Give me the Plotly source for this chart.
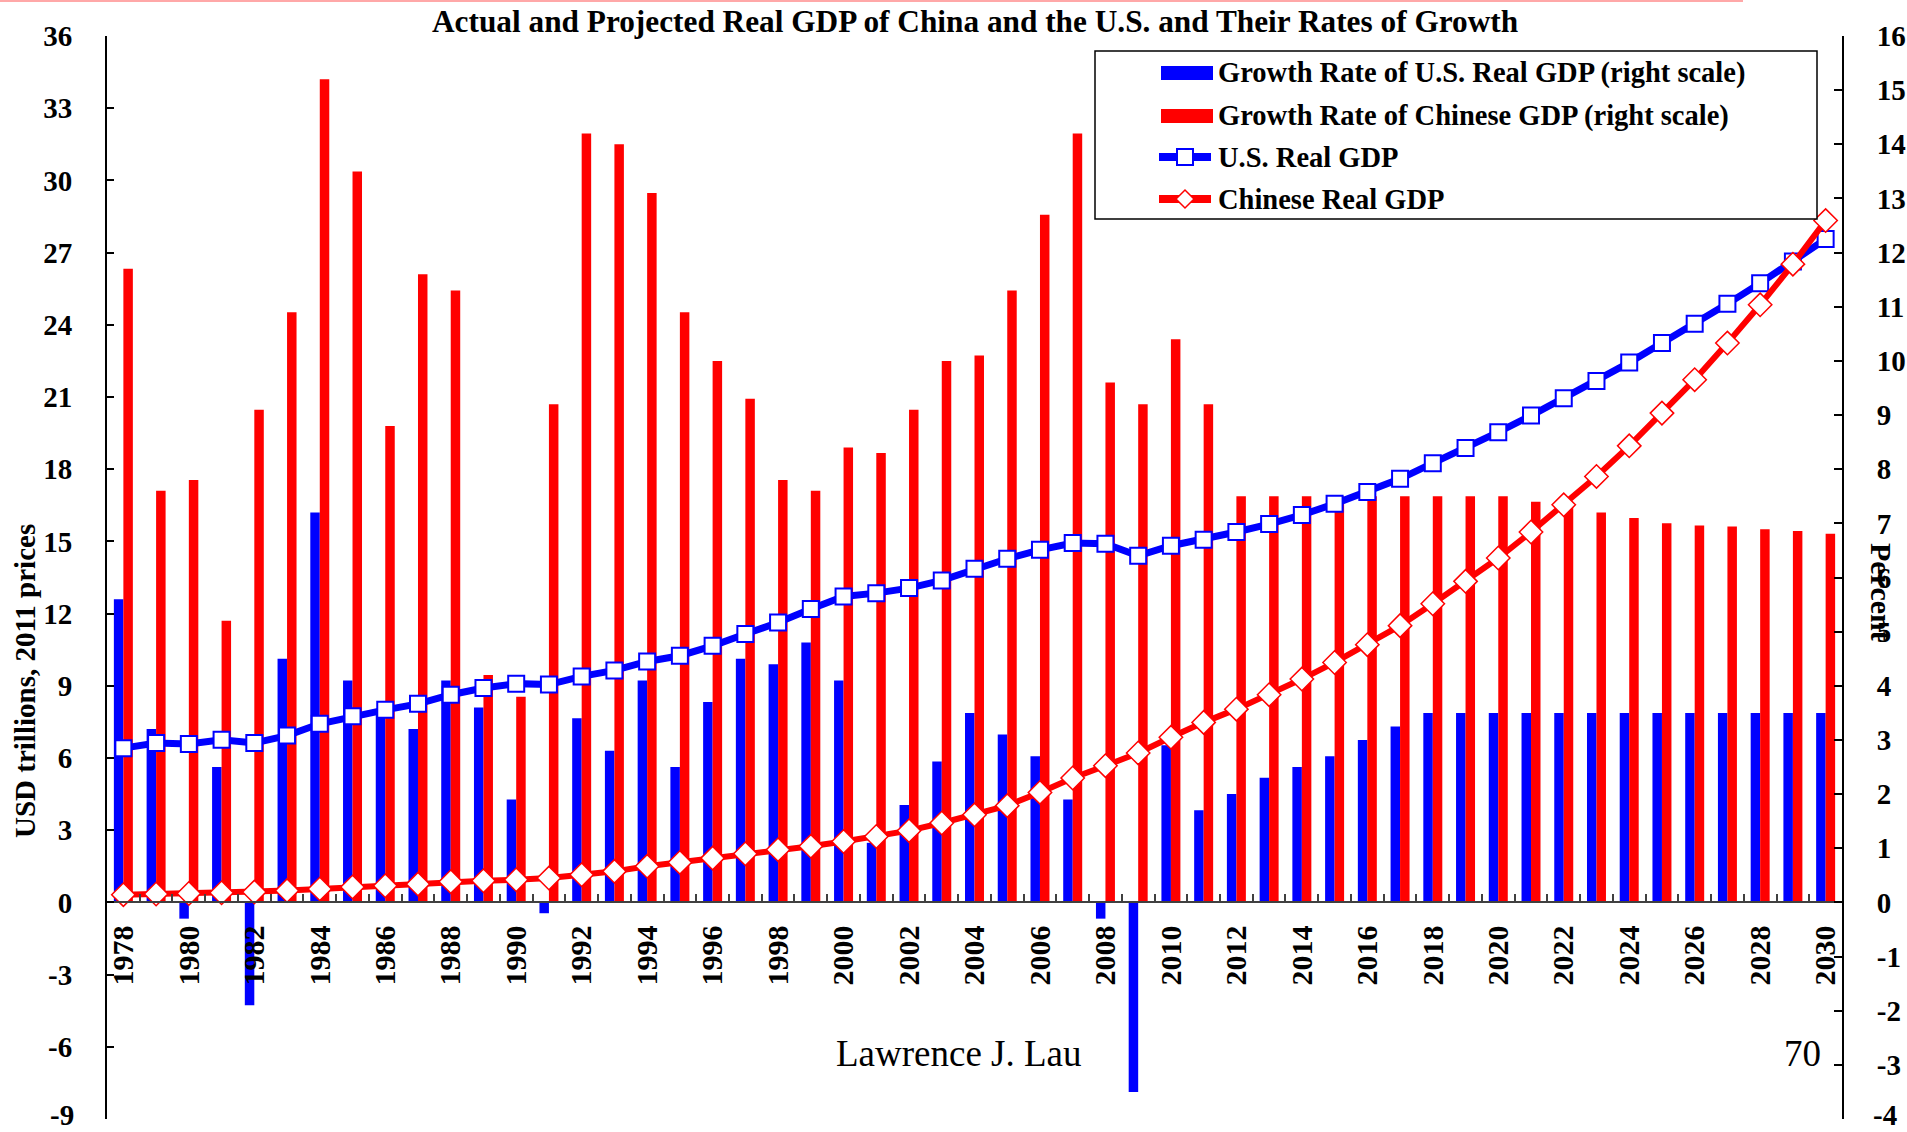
import plotly.graph_objects as go

# ---------------- data ----------------
years = list(range(1978, 2031))

us_growth = [5.6, 3.2, -0.3, 2.5, -1.9, 4.5, 7.2, 4.1, 3.5, 3.2,
             4.1, 3.6, 1.9, -0.2, 3.4, 2.8, 4.1, 2.5, 3.7, 4.5,
             4.4, 4.8, 4.1, 1.1, 1.8, 2.6, 3.5, 3.1, 2.7, 1.9,
             -0.3, -3.5, 2.9, 1.7, 2.0, 2.3, 2.5, 2.7, 3.0, 3.25,
             3.5, 3.5, 3.5, 3.5, 3.5, 3.5, 3.5, 3.5, 3.5, 3.5,
             3.5, 3.5, 3.5]

cn_growth = [11.7, 7.6, 7.8, 5.2, 9.1, 10.9, 15.2, 13.5, 8.8, 11.6,
             11.3, 4.2, 3.8, 9.2, 14.2, 14.0, 13.1, 10.9, 10.0, 9.3,
             7.8, 7.6, 8.4, 8.3, 9.1, 10.0, 10.1, 11.3, 12.7, 14.2,
             9.6, 9.2, 10.4, 9.2, 7.5, 7.5, 7.5, 7.5, 7.5, 7.5,
             7.5, 7.5, 7.5, 7.4, 7.3, 7.2, 7.1, 7.0, 6.96, 6.94,
             6.89, 6.86, 6.81]

us_gdp = [6.41, 6.62, 6.58, 6.76, 6.62, 6.93, 7.42, 7.73, 8.00, 8.25,
          8.63, 8.91, 9.09, 9.05, 9.39, 9.64, 10.01, 10.25, 10.66, 11.15,
          11.63, 12.19, 12.71, 12.85, 13.06, 13.38, 13.86, 14.28, 14.65, 14.93,
          14.90, 14.40, 14.82, 15.07, 15.39, 15.72, 16.10, 16.56, 17.05, 17.60,
          18.25, 18.88, 19.54, 20.23, 20.95, 21.67, 22.43, 23.24, 24.04, 24.87,
          25.73, 26.63, 27.56]

cn_gdp = [0.32, 0.35, 0.37, 0.40, 0.43, 0.49, 0.56, 0.64, 0.69, 0.76,
          0.86, 0.90, 0.94, 1.01, 1.15, 1.29, 1.50, 1.66, 1.84, 2.02,
          2.19, 2.33, 2.53, 2.74, 2.98, 3.30, 3.64, 4.02, 4.57, 5.17,
          5.68, 6.21, 6.86, 7.48, 8.03, 8.63, 9.28, 9.97, 10.71, 11.50,
          12.41, 13.34, 14.31, 15.39, 16.52, 17.70, 18.97, 20.33, 21.72, 23.24,
          24.83, 26.52, 28.33]

left_ticks = list(range(-9, 37, 3))
right_ticks = list(range(-4, 17, 1))
# plain hyphen minus, as in the original; the bottom-most labels sit on the window edge
# and are drawn separately (slightly lifted) so that they are not clipped
left_labels = ["" if v == left_ticks[0] else str(v) for v in left_ticks]
right_labels = ["" if v == right_ticks[0] else str(v) for v in right_ticks]
year_labels = [str(y) if y % 2 == 0 else "" for y in years]

title_text = "Actual and Projected Real GDP of China and the U.S. and Their Rates of Growth"
legend_names = ["Growth Rate of U.S. Real GDP (right scale)",
                "Growth Rate of Chinese GDP (right scale)",
                "U.S. Real GDP",
                "Chinese Real GDP"]

# ---------------- layout helpers ----------------
W, H = 1907, 1132
L, R, T, B = 107, 1842, 36, 1119    # plot area in page pixels


def px(X):
    return (X - L) / (R - L)


def py(Y):
    return (B - Y) / (B - T)


FONT = "Liberation Serif, Times New Roman, serif"
BLUE = "#0000FF"
RED = "#FF0000"

fig = go.Figure()
fig.add_trace(go.Bar(x=years, y=us_growth, name=legend_names[0], yaxis="y",
                     marker=dict(color=BLUE, line=dict(width=0))))
fig.add_trace(go.Bar(x=years, y=cn_growth, name=legend_names[1], yaxis="y",
                     marker=dict(color=RED, line=dict(width=0))))
fig.add_trace(go.Scatter(x=years, y=us_gdp, name=legend_names[2], yaxis="y2",
                         mode="lines+markers",
                         line=dict(color=BLUE, width=7),
                         marker=dict(symbol="square", size=16, color="white",
                                     line=dict(color=BLUE, width=2))))
fig.add_trace(go.Scatter(x=years, y=cn_gdp, name=legend_names[3], yaxis="y2",
                         mode="lines+markers",
                         line=dict(color=RED, width=6),
                         marker=dict(symbol="diamond", size=18, color="white",
                                     line=dict(color=RED, width=1.5))))

tickfont = dict(family=FONT, size=29, color="black", weight="bold")

fig.update_layout(
    width=W, height=H,
    margin=dict(l=L, r=W - R, t=T, b=H - B, pad=0, autoexpand=False),
    paper_bgcolor="white", plot_bgcolor="white",
    showlegend=False,
    barmode="group", bargap=0.42, bargroupgap=0,
    font=dict(family=FONT, color="black"),
    xaxis=dict(type="category", range=[-0.5, 52.5], anchor="free", position=0.2,
               automargin=False,
               showline=True, linecolor="#404040", linewidth=2,
               ticks="inside", ticklen=7, tickwidth=1.5, tickcolor="#404040",
               tickson="boundaries", tickmode="array", tickvals=years, ticktext=year_labels,
               tickangle=-90, tickfont=dict(family=FONT, size=30, color="black", weight="bold"),
               ticklabelstandoff=10,
               showgrid=False, zeroline=False),
    yaxis=dict(side="right", range=[-4, 16], tickmode="array",
               tickvals=right_ticks, ticktext=right_labels,
               automargin=False, ticklabeloverflow="allow",
               showline=True, linecolor="black", linewidth=2,
               ticks="inside", ticklen=8, tickwidth=1.5, tickcolor="black",
               tickfont=tickfont, ticklabelstandoff=27,
               showgrid=False, zeroline=False),
    yaxis2=dict(side="left", overlaying="y", range=[-9, 36], tickmode="array",
                tickvals=left_ticks, ticktext=left_labels,
                automargin=False, ticklabeloverflow="allow",
                showline=True, linecolor="black", linewidth=2,
                ticks="inside", ticklen=7, tickwidth=1.5, tickcolor="black",
                tickfont=tickfont, ticklabelstandoff=27,
                showgrid=False, zeroline=False),
)

shapes = []
annotations = []

# thin pink rule along the top edge
shapes.append(dict(type="line", xref="paper", yref="paper",
                   x0=px(0), x1=px(1743), y0=py(1), y1=py(1),
                   line=dict(color="#FFA8A8", width=2)))

# legend box
shapes.append(dict(type="rect", xref="paper", yref="paper",
                   x0=px(1095), x1=px(1817), y0=py(219), y1=py(51),
                   line=dict(color="black", width=1.5), fillcolor="white", layer="above"))
rows = [73, 116, 157, 199]
# bar symbols
for row, col in zip(rows[:2], [BLUE, RED]):
    shapes.append(dict(type="rect", xref="paper", yref="paper",
                       x0=px(1161), x1=px(1213), y0=py(row + 7), y1=py(row - 7),
                       line=dict(width=0), fillcolor=col, layer="above"))
# line symbols
for row, col in zip(rows[2:], [BLUE, RED]):
    shapes.append(dict(type="line", xref="paper", yref="paper",
                       x0=px(1159), x1=px(1211), y0=py(row), y1=py(row),
                       line=dict(color=col, width=8), layer="above"))
# square marker
shapes.append(dict(type="rect", xref="paper", yref="paper",
                   x0=px(1177), x1=px(1193), y0=py(rows[2] + 8), y1=py(rows[2] - 8),
                   line=dict(color=BLUE, width=2), fillcolor="white", layer="above"))
# diamond marker
cx, cy, d = 1185, rows[3], 9
shapes.append(dict(type="path", xref="paper", yref="paper",
                   path=f"M {px(cx - d)} {py(cy)} L {px(cx)} {py(cy - d)} L {px(cx + d)} {py(cy)} L {px(cx)} {py(cy + d)} Z",
                   line=dict(color=RED, width=1.5), fillcolor="white", layer="above"))

for row, name in zip(rows, legend_names):
    annotations.append(dict(text=name, xref="paper", yref="paper", x=px(1216), y=py(row),
                            xanchor="left", yanchor="middle", showarrow=False,
                            font=dict(family=FONT, size=28.5, color="black", weight="bold")))

# bottom-most axis labels (kept inside the window)
annotations.append(dict(text=str(left_ticks[0]), xref="paper", yref="paper",
                        x=px(75), y=py(H), xanchor="right", yanchor="bottom",
                        showarrow=False, borderpad=0, font=tickfont))
annotations.append(dict(text=str(right_ticks[0]), xref="paper", yref="paper",
                        x=px(1872), y=py(H), xanchor="left", yanchor="bottom",
                        showarrow=False, borderpad=0, font=tickfont))

# title
annotations.append(dict(text=title_text, xref="paper", yref="paper", x=px(975), y=py(22),
                        xanchor="center", yanchor="middle", showarrow=False,
                        font=dict(family=FONT, size=31.3, color="black", weight="bold")))
# axis titles
annotations.append(dict(text="USD trillions, 2011 prices", xref="paper", yref="paper",
                        x=px(25), y=py(681), xanchor="center", yanchor="middle",
                        textangle=-90, showarrow=False,
                        font=dict(family=FONT, size=29, color="black", weight="bold")))
annotations.append(dict(text="Percent", xref="paper", yref="paper",
                        x=px(1882), y=py(592), xanchor="center", yanchor="middle",
                        textangle=90, showarrow=False,
                        font=dict(family=FONT, size=30, color="black", weight="bold")))
# footer texts
annotations.append(dict(text="Lawrence J. Lau", xref="paper", yref="paper",
                        x=px(959), y=py(1053), xanchor="center", yanchor="middle",
                        showarrow=False, font=dict(family=FONT, size=37, color="black")))
annotations.append(dict(text="70", xref="paper", yref="paper",
                        x=px(1802), y=py(1053), xanchor="center", yanchor="middle",
                        showarrow=False, font=dict(family=FONT, size=37, color="black")))

fig.update_layout(shapes=shapes, annotations=annotations)

# remove the browser's default page margin so the figure fills the window exactly
fig.write_html("out.html",
               config={"displayModeBar": False},
               post_script="document.body.style.margin='0';document.body.style.overflow='hidden';")
